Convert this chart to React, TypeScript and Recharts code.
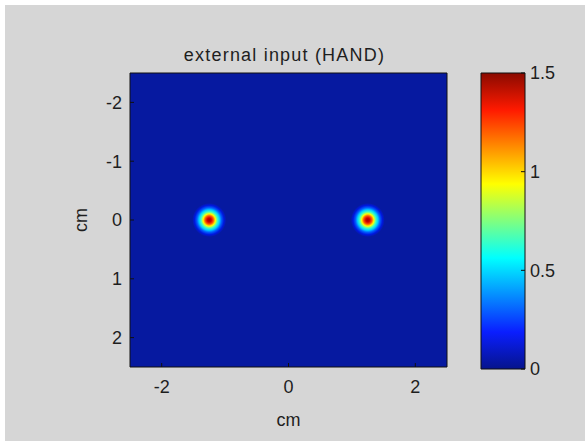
import React from 'react';
import { ScatterChart, Scatter, XAxis, YAxis, ReferenceArea, BarChart, Bar, Label } from 'recharts';

// ---- data ----
const xTicks = [-2, 0, 2];
const yTicks = [-2, -1, 0, 1, 2];
const axisDomain: [number, number] = [-2.5, 2.5];
const colorTicks = [0, 0.5, 1, 1.5];
const colorDomain: [number, number] = [0, 1.5];
const colorbarData = [{ k: 'scale', v: 1.5 }];
const sourceX = [-1.25, 1.25];
const sourceY = [0, 0];
const sourcePeak = [1.45, 1.45];
const sources = sourceX.map((x, i) => ({ x, y: sourceY[i], peak: sourcePeak[i] }));
const titleText = 'external input (HAND)';
const xLabelText = 'cm';
const yLabelText = 'cm';

// ---- styles ----
const FONT = '"Liberation Sans", Arial, Helvetica, sans-serif';
const FS = 18;
const TXT = '#1e1e1e';
const BG = '#d6d6d6';
const FIELD = '#0619a0';
const LINE = '#111111';

const tickStyle = { fontSize: FS, fill: TXT, fontFamily: FONT };

const blobShape = (p: any) => {
  if (p.cx == null || p.cy == null) return null;
  return <circle cx={p.cx} cy={p.cy} r={17} fill="url(#blobGrad)" />;
};

export default function App() {
  return (
    <div style={{ position: 'absolute', left: 0, top: 0, width: 585, height: 441, background: '#ffffff', overflow: 'hidden' }}>
      <div style={{ position: 'absolute', left: 5, top: 5, width: 580, height: 436, background: BG }} />
      <div style={{ position: 'absolute', left: 0, top: 0 }}>
        <ScatterChart width={585} height={441} margin={{ top: 53, right: 118, bottom: 34, left: 90 }}>
          <defs>
            <radialGradient id="blobGrad" cx="50%" cy="50%" r="50%">
              <stop offset="0" stopColor="#a20000" />
              <stop offset="0.12" stopColor="#d10000" />
              <stop offset="0.24" stopColor="#ff5200" />
              <stop offset="0.36" stopColor="#fdff02" />
              <stop offset="0.48" stopColor="#45ffba" />
              <stop offset="0.6" stopColor="#00d0ff" />
              <stop offset="0.72" stopColor="#0060ff" />
              <stop offset="0.86" stopColor="#0018e0" />
              <stop offset="1" stopColor={FIELD} />
            </radialGradient>
          </defs>
          <ReferenceArea x1={axisDomain[0]} x2={axisDomain[1]} y1={axisDomain[0]} y2={axisDomain[1]} fill={FIELD} fillOpacity={1} stroke="none" />
          <Scatter data={sources} dataKey="y" shape={blobShape} isAnimationActive={false} />
          <XAxis type="number" dataKey="x" domain={axisDomain} ticks={xTicks} interval={0} allowDataOverflow
            height={40} tickSize={-4} tickMargin={17} tick={tickStyle}
            axisLine={{ stroke: LINE }} tickLine={{ stroke: LINE }}>
            <Label content={(p: any) => {
              const vb = p.viewBox || { x: 130, y: 367, width: 317, height: 40 };
              return <text x={vb.x + vb.width / 2} y={vb.y + 59} textAnchor="middle" fontSize={FS} fontFamily={FONT} fill={TXT}>{xLabelText}</text>;
            }} />
          </XAxis>
          <XAxis xAxisId="top" orientation="top" type="number" domain={axisDomain} ticks={xTicks} interval={0} allowDataOverflow
            height={20} tickSize={-4} tick={false} axisLine={{ stroke: LINE }} tickLine={{ stroke: LINE }}>
            <Label content={(p: any) => {
              const vb = p.viewBox || { x: 130, y: 53, width: 317, height: 20 };
              return <text x={vb.x + vb.width / 2 - 4} y={vb.y + vb.height - 12.5} textAnchor="middle" fontSize={FS} fontFamily={FONT} fill={TXT} letterSpacing={1.2}>{titleText}</text>;
            }} />
          </XAxis>
          <YAxis type="number" dataKey="y" domain={axisDomain} ticks={yTicks} interval={0} reversed allowDataOverflow
            width={40} tickSize={-4} tickMargin={12} tick={tickStyle}
            axisLine={{ stroke: LINE }} tickLine={{ stroke: LINE }}>
            <Label content={(p: any) => {
              const vb = p.viewBox || { x: 90, y: 73, width: 40, height: 294 };
              const cx = vb.x + vb.width - 43;
              const cy = vb.y + vb.height / 2;
              return <text x={cx} y={cy} transform={`rotate(-90 ${cx} ${cy})`} textAnchor="middle" fontSize={FS} fontFamily={FONT} fill={TXT}>{yLabelText}</text>;
            }} />
          </YAxis>
          <YAxis yAxisId="right" orientation="right" type="number" domain={axisDomain} ticks={yTicks} interval={0} reversed allowDataOverflow
            width={20} tickSize={-4} tick={false} axisLine={{ stroke: LINE }} tickLine={{ stroke: LINE }} />
        </ScatterChart>
      </div>
      <div style={{ position: 'absolute', left: 0, top: 0 }}>
        <BarChart width={585} height={441} data={colorbarData} margin={{ top: 73, right: 10, bottom: 72, left: 461 }}
          barCategoryGap={0} barGap={0}>
          <defs>
            <linearGradient id="jetGrad" x1="0" y1="1" x2="0" y2="0">
              <stop offset="0" stopColor="#06148c" />
              <stop offset="0.125" stopColor="#0a1eff" />
              <stop offset="0.375" stopColor="#00ffff" />
              <stop offset="0.625" stopColor="#ffff00" />
              <stop offset="0.875" stopColor="#ff1a00" />
              <stop offset="1" stopColor="#8a0a00" />
            </linearGradient>
          </defs>
          <XAxis dataKey="k" hide />
          <Bar dataKey="v" yAxisId="cbRight" fill="url(#jetGrad)" stroke={LINE} strokeWidth={1} isAnimationActive={false} />
          <YAxis yAxisId="cbLeft" orientation="left" type="number" domain={colorDomain} ticks={colorTicks} interval={0}
            width={20} tickSize={-4} tick={false} axisLine={false} tickLine={{ stroke: LINE }} />
          <YAxis yAxisId="cbRight" orientation="right" type="number" domain={colorDomain} ticks={colorTicks} interval={0}
            width={50} tickSize={-4} tickMargin={9} tick={tickStyle} axisLine={false} tickLine={{ stroke: LINE }} />
        </BarChart>
      </div>
    </div>
  );
}
